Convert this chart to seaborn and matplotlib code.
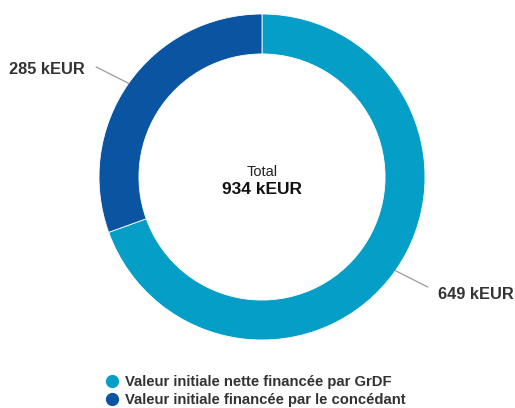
import numpy as np
import matplotlib
matplotlib.use("Agg")
import matplotlib.pyplot as plt
import seaborn as sns
from matplotlib.lines import Line2D

categories = ["Valeur initiale nette financée par GrDF", "Valeur initiale financée par le concédant"]
values = [649, 285]
value_labels = ["649 kEUR", "285 kEUR"]
total_label = "934 kEUR"
colors = ["#059ec6", "#0b54a2"]

sns.set_theme(style="white")
plt.rcParams['font.family'] = ['Liberation Sans', 'DejaVu Sans']

W, H = 515, 408
fig = plt.figure(figsize=(W / 100, H / 100), dpi=100)
cx, cy, R = 262, 177, 163
ax = fig.add_axes([(cx - R) / W, (H - cy - R) / H, 2 * R / W, 2 * R / H])

wedges, _ = ax.pie(values, colors=colors, startangle=90, counterclock=False,
                   radius=1, wedgeprops=dict(width=0.245, edgecolor="white", linewidth=0.6))
ax.set_xlim(-1, 1)
ax.set_ylim(-1, 1)
ax.set_aspect("equal")
ax.axis("off")

for w, lab in zip(wedges, value_labels):
    ang = np.deg2rad((w.theta1 + w.theta2) / 2)
    c, s = np.cos(ang), np.sin(ang)
    x0, y0 = c, s
    x1, y1 = 1.243 * c, 1.175 * s
    ax.annotate("", xy=(x0, y0), xytext=(x1, y1),
                arrowprops=dict(arrowstyle="-", color="#9a9aa6", lw=0.9,
                                shrinkA=0, shrinkB=0),
                annotation_clip=False)
    if c > 0:
        ax.annotate(lab, xy=(x1, y1), xytext=(7.2, -5.5), textcoords="offset points",
                    ha="left", va="center", fontsize=11.8, fontweight="bold",
                    color="#333333", annotation_clip=False)
    else:
        ax.annotate(lab, xy=(x1, y1), xytext=(-8, -2), textcoords="offset points",
                    ha="right", va="center", fontsize=11.8, fontweight="bold",
                    color="#333333", annotation_clip=False)

ax.text(0, 0.03, "Total", ha="center", va="center", fontsize=10.5, color="#222222")
ax.text(0, -0.075, total_label, ha="center", va="center", fontsize=12.5,
        fontweight="bold", color="#111111")

handles = [Line2D([0], [0], marker="o", linestyle="", markersize=8.5,
                  markerfacecolor=col, markeredgecolor=col) for col in colors]
leg = fig.legend(handles, categories, loc="upper left",
                 bbox_to_anchor=(97 / W, 1 - 369 / H), frameon=False,
                 handletextpad=0.3, labelspacing=0.28, borderaxespad=0,
                 handlelength=1.2, prop=dict(size=10.7, weight="bold"))
for t in leg.get_texts():
    t.set_color("#333333")

fig.savefig("out.png", dpi=100)
